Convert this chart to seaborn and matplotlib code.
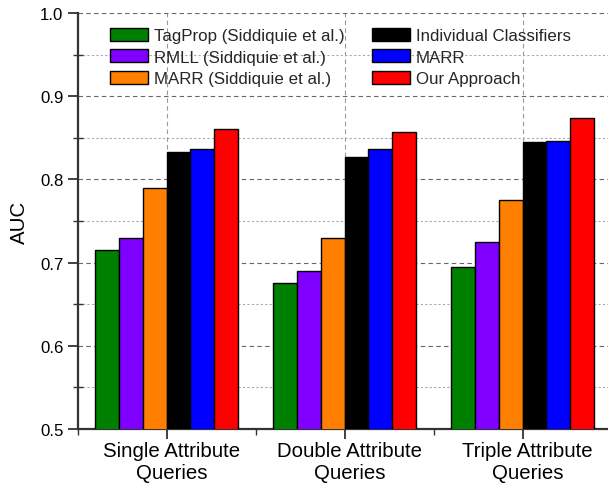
import matplotlib
matplotlib.use("Agg")
import matplotlib.pyplot as plt
import matplotlib.transforms as mtransforms
from matplotlib.ticker import MultipleLocator, FixedLocator, FormatStrFormatter
import numpy as np
import pandas as pd
import seaborn as sns

queries = ["Single Attribute\nQueries", "Double Attribute\nQueries", "Triple Attribute\nQueries"]
methods = ["TagProp (Siddiquie et al.)", "RMLL (Siddiquie et al.)", "MARR (Siddiquie et al.)",
           "Individual Classifiers", "MARR", "Our Approach"]
colors = ["#008000", "#8000FF", "#FF8000", "#000000", "#0000FF", "#FF0000"]

tagprop = [0.715, 0.675, 0.695]
rmll = [0.730, 0.690, 0.725]
marr_sid = [0.790, 0.730, 0.775]
individual = [0.833, 0.827, 0.845]
marr = [0.836, 0.836, 0.846]
ours = [0.861, 0.857, 0.874]

series = [tagprop, rmll, marr_sid, individual, marr, ours]
df = pd.DataFrame(
    [(q, m, vals[i]) for m, vals in zip(methods, series) for i, q in enumerate(queries)],
    columns=["query", "method", "auc"],
)

sns.set_theme(style="white")
plt.rcParams["font.family"] = ["Liberation Sans", "DejaVu Sans"]

fig = plt.figure(figsize=(6.08, 4.85), dpi=100)
ax = fig.add_axes([77.7 / 608, 1 - 430 / 485, (611.5 - 77.7) / 608, (430 - 14) / 485])

sns.barplot(data=df, x="query", y="auc", hue="method", hue_order=methods, order=queries,
            palette=colors, saturation=1, width=0.8, edgecolor="black", linewidth=1.0,
            ax=ax, legend=True, zorder=3)

ax.set_ylim(0.5, 1.0)
ax.set_xlim(-0.5, 2.5)
ax.yaxis.set_major_locator(MultipleLocator(0.1))
ax.yaxis.set_minor_locator(MultipleLocator(0.05))
ax.yaxis.set_major_formatter(FormatStrFormatter("%.1f"))
ax.xaxis.set_minor_locator(FixedLocator([-0.5, 0.5, 1.5, 2.5]))

ax.set_ylabel("AUC", fontsize=14.7, color="black", labelpad=8)
ax.set_xlabel("")

ax.grid(True, which="major", axis="y", linestyle=(0, (4, 3)), color="#666666", linewidth=0.8, zorder=0)
ax.grid(True, which="minor", axis="y", linestyle=(0, (2, 2)), color="#aaaaaa", linewidth=0.8, zorder=0)
ax.grid(True, which="major", axis="x", linestyle=(0, (4, 3)), color="#999999", linewidth=0.8, zorder=0)
ax.set_axisbelow(True)

for side in ["top", "right"]:
    ax.spines[side].set_visible(False)
for side in ["left", "bottom"]:
    ax.spines[side].set_color("#333333")
    ax.spines[side].set_linewidth(1.6)

ax.tick_params(axis="y", which="major", direction="out", length=7.2, width=1.3, color="#333333",
               labelsize=12.1, labelcolor="black", left=True, pad=3)
ax.tick_params(axis="y", which="minor", direction="inout", length=7, width=1.0, color="#333333", left=True)
ax.tick_params(axis="x", which="major", direction="out", length=7, width=1.3, color="#333333",
               labelsize=14.7, labelcolor="black", bottom=True, pad=2)
ax.tick_params(axis="x", which="minor", direction="out", length=4, width=1.0, color="#333333", bottom=True)

# nudge the category labels slightly to the right
shift = mtransforms.ScaledTranslation(5 / 100, 0, fig.dpi_scale_trans)
for lbl in ax.get_xticklabels():
    lbl.set_transform(lbl.get_transform() + shift)

handles, labels = ax.get_legend_handles_labels()
ax.get_legend().remove()
for h in handles:
    h.set_edgecolor("black")
    h.set_linewidth(1.0)
leg = fig.legend(handles, labels, ncol=2, loc="upper left",
                 bbox_to_anchor=(110 / 608, 1 - 29 / 485), bbox_transform=fig.transFigure,
                 frameon=False, fontsize=12.2, handlelength=2.27, handleheight=0.8,
                 handletextpad=0.33, columnspacing=1.6, labelspacing=0.35,
                 borderpad=0, borderaxespad=0)

fig.savefig("out.png", dpi=100)
